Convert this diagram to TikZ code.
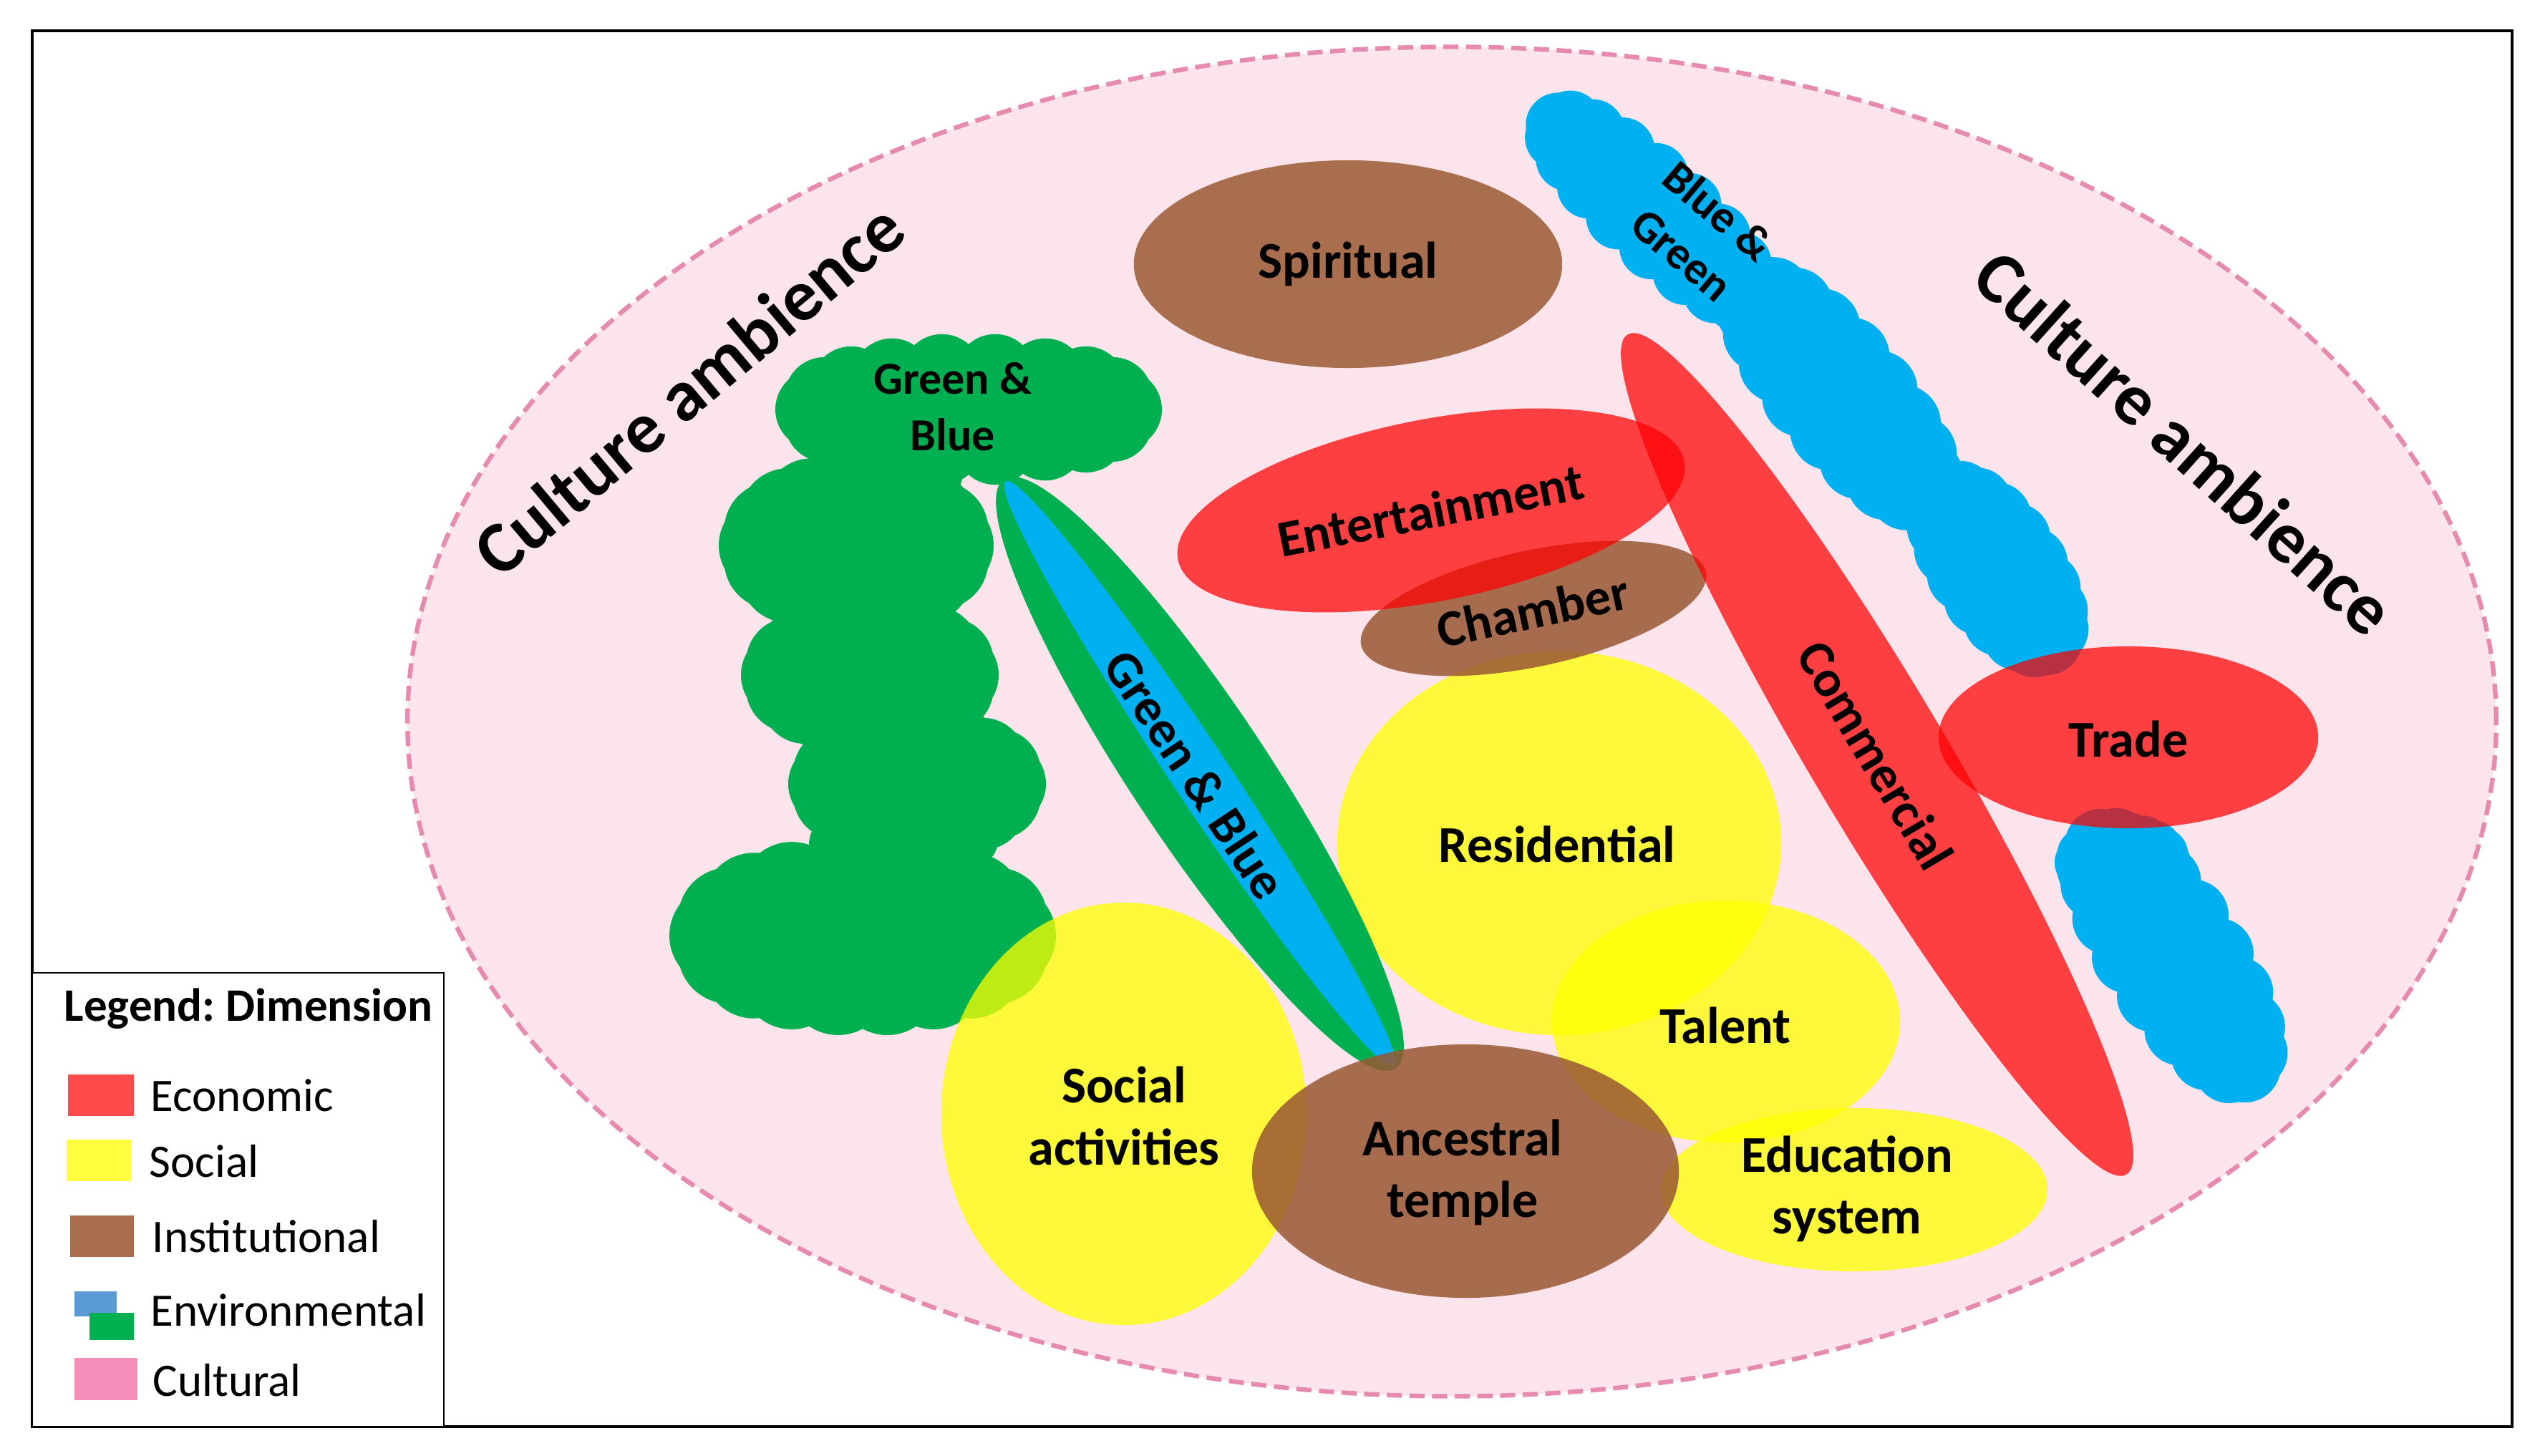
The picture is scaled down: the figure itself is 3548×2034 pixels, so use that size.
\documentclass[tikz,border=0pt]{standalone}
\usepackage{fontspec}
\setmainfont{Carlito}
\usetikzlibrary{shapes.geometric}
\frenchspacing
\definecolor{pinkbg}{RGB}{252,228,236}
\definecolor{pinkline}{RGB}{230,138,176}
\definecolor{ecored}{RGB}{255,0,0}
\definecolor{socyel}{RGB}{255,255,0}
\definecolor{instbrown}{RGB}{153,87,50}
\definecolor{spbrown}{RGB}{168,110,78}
\definecolor{envgreen}{RGB}{0,176,80}
\definecolor{envblue}{RGB}{0,176,240}
\definecolor{legred}{RGB}{255,75,75}
\definecolor{legyel}{RGB}{255,255,64}
\definecolor{legbrown}{RGB}{168,110,78}
\definecolor{legblue}{RGB}{91,155,213}
\definecolor{legpink}{RGB}{244,143,185}
% cloud layer: colour, cx, cy, rx, ry, angle, bump radius
\newcommand{\cloudlayer}[7]{%
  \begin{scope}[shift={(#2,#3)}, rotate=#6]
    \fill[#1] (0,0) ellipse [x radius={(#4-#7)*0.01cm}, y radius={(#5-#7)*0.01cm}];
    \foreach \a in {0,20,...,340}
      \fill[#1] ({(#4-#7)*cos(\a)},{(#5-#7)*sin(\a)}) circle [radius=#7*0.01cm];
  \end{scope}}
\begin{document}
\begin{tikzpicture}[x=0.01cm,y=-0.01cm,
  blob/.style={ellipse, draw=none, inner sep=0pt, outer sep=0pt},
  ecoshape/.style={blob, fill=ecored, fill opacity=0.72},
  socshape/.style={blob, fill=socyel, fill opacity=0.75},
  instshape/.style={blob, fill=instbrown, fill opacity=0.85},
  lbl/.style={font=\bfseries\fontsize{20.5}{24.5}\selectfont, align=center, text=black, inner sep=0pt},
  smalllbl/.style={font=\bfseries\fontsize{18.2}{22.5}\selectfont, align=center, text=black, inner sep=0pt},
  biglbl/.style={font=\bfseries\fontsize{29}{35}\selectfont, text=black, inner sep=0pt},
  legtext/.style={font=\fontsize{18.5}{22}\selectfont, anchor=west, inner sep=0pt, text=black},
]
\useasboundingbox (0,0) rectangle (3548,2034);
\fill[white] (0,0) rectangle (3548,2034);

% cultural ambience ellipse
\draw[pinkline, line width=1.8pt, dash pattern=on 6pt off 3pt, fill=pinkbg]
  (2028,1008) ellipse [x radius=14.58cm, y radius=9.42cm];

% green cloud
\cloudlayer{envgreen}{1353}{572}{270}{106}{0}{56}
\cloudlayer{envgreen}{1196}{762}{192}{130}{0}{68}
\cloudlayer{envgreen}{1215}{943}{180}{115}{0}{62}
\cloudlayer{envgreen}{1281}{1095}{180}{110}{0}{60}
\cloudlayer{envgreen}{1205}{1307}{270}{140}{0}{72}
\foreach \cx/\cy/\r in {1180/660/50, 1300/660/45, 1140/865/50, 1290/850/45,
  1190/1030/45, 1310/1010/40, 1175/1180/45, 1350/1170/45}
  \fill[envgreen] (\cx,\cy) circle [radius=\r*0.01cm];
\fill[envgreen] (1150,650) -- (1140,870) -- (1190,1040) -- (1170,1190) -- (1170,1300)
  -- (1350,1300) -- (1350,1170) -- (1310,1010) -- (1290,850) -- (1290,650) -- cycle;

% blue cloud (upper)
\cloudlayer{envblue}{2310}{295}{225}{85}{-42}{45}
\cloudlayer{envblue}{2570}{550}{230}{100}{-50}{55}
\cloudlayer{envblue}{2790}{795}{170}{95}{-55}{50}

% blue cloud (lower)
\cloudlayer{envblue}{2965}{1205}{95}{70}{0}{38}
\cloudlayer{envblue}{3035}{1335}{235}{105}{-57}{50}

% institutional: spiritual
\node[blob, fill=spbrown, minimum width=5.98cm, minimum height=2.90cm] (spiritual) at (1883,369) {};

% social shapes
\node[socshape, minimum width=6.20cm, minimum height=5.36cm] (residential) at (2178,1178) {};
\node[socshape, minimum width=4.86cm, minimum height=3.38cm] (talent) at (2411,1427) {};
\node[socshape, minimum width=5.40cm, minimum height=2.28cm] (education) at (2590,1662) {};
\node[socshape, minimum width=5.10cm, minimum height=5.90cm] (socialact) at (1570,1556) {};

% green & blue corridor
\node[blob, fill=envgreen, minimum width=9.88cm, minimum height=1.90cm, rotate=-56.4] (gbouter) at (1676,1081) {};
\node[blob, fill=envblue, minimum width=9.80cm, minimum height=0.80cm, rotate=-56.4] (gbinner) at (1676,1081) {};

% institutional
\node[instshape, minimum width=5.96cm, minimum height=3.54cm] (ancestral) at (2047,1636) {};
\node[instshape, minimum width=4.92cm, minimum height=1.62cm, rotate=12] (chamber) at (2142,850) {};

% economic
\node[ecoshape, minimum width=7.20cm, minimum height=2.54cm, rotate=11] (entertain) at (1999,713) {};
\node[ecoshape, minimum width=13.64cm, minimum height=1.90cm, rotate=-59.3] (commercial) at (2622,1054) {};
\node[ecoshape, minimum width=5.30cm, minimum height=2.54cm] (trade) at (2973,1030) {};

% labels
\node[biglbl, rotate=40] (cultleft) at (962,543) {Culture ambience};
\node[biglbl, rotate=-42] (cultright) at (3052,618) {Culture ambience};
\node[lbl] (spiritualtxt) at (1883,369) {Spiritual};
\node[lbl, rotate=11] (entertaintxt) at (1998,713) {Entertainment};
\node[lbl, rotate=12] (chambertxt) at (2141,853) {Chamber};
\node[lbl, rotate=-59.3] (commercialtxt) at (2620,1055) {Commercial};
\node[lbl] (tradetxt) at (2973,1032) {Trade};
\node[lbl] (residentialtxt) at (2175,1179) {Residential};
\node[lbl] (talenttxt) at (2410,1432) {Talent};
\node[lbl] (educationtxt) at (2580,1661) {Education\\system};
\node[lbl] (socialtxt) at (1570,1559) {Social\\activities};
\node[lbl] (ancestraltxt) at (2043,1638) {Ancestral\\temple};
\node[lbl, rotate=-56.4] (gbtxt) at (1670,1082) {Green \& Blue};
\node[smalllbl] (greencloudtxt) at (1331,568) {Green \&\\Blue};
\node[smalllbl, rotate=-40] (bluecloudtxt) at (2375,325) {Blue \&\\Green};

% frame
\draw[black, line width=1.2pt] (45,43) rectangle (3509,1993);

% legend
\draw[black, line width=0.8pt, fill=white] (45,1359) rectangle (620,1993);
\node[font=\bfseries\fontsize{18.5}{22}\selectfont, anchor=west, inner sep=0pt] (legtitle) at (89,1409) {Legend: Dimension};
\fill[legred] (95,1501) rectangle (187,1559);
\node[legtext] (legeco) at (210,1530) {Economic};
\fill[legyel] (93,1592) rectangle (183,1650);
\node[legtext] (legsoc) at (208,1622) {Social};
\fill[legbrown] (98,1698) rectangle (187,1756);
\node[legtext] (leginst) at (212,1727) {Institutional};
\fill[legblue] (104,1804) rectangle (163,1839);
\fill[envgreen] (125,1834) rectangle (187,1872);
\node[legtext] (legenv) at (210,1830) {Environmental};
\fill[legpink] (104,1897) rectangle (192,1956);
\node[legtext] (legcult) at (213,1928) {Cultural};
\end{tikzpicture}
\end{document}
